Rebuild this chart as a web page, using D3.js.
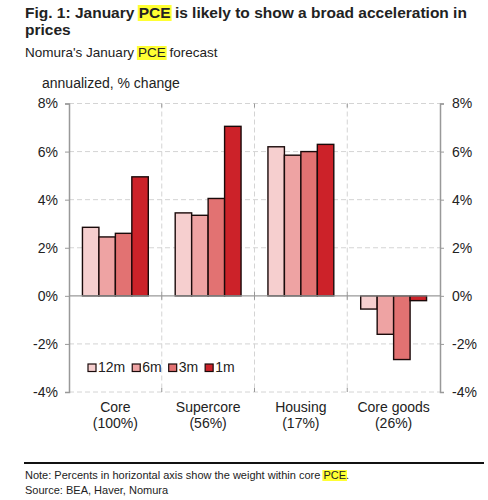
<!DOCTYPE html>
<html>
<head>
<meta charset="utf-8">
<script src="https://cdn.jsdelivr.net/npm/d3@7"></script>
<style>
  body { margin: 0; background: #fff; }
  svg { font-family: "Liberation Sans", Arial, sans-serif; }
</style>
</head>
<body>
<div id="chart"></div>
<script>
var categories = ["Core", "Supercore", "Housing", "Core goods"];
var weights = ["(100%)", "(56%)", "(17%)", "(26%)"];
var series = ["12m", "6m", "3m", "1m"];
var values12m = [2.85, 3.45, 6.2, -0.55];
var values6m = [2.45, 3.35, 5.85, -1.6];
var values3m = [2.6, 4.05, 6.0, -2.65];
var values1m = [4.95, 7.05, 6.3, -0.2];
var yTicks = [-4, -2, 0, 2, 4, 6, 8];

var seriesValues = [values12m, values6m, values3m, values1m];
var colors = ["#f6cfcf", "#eea3a3", "#e27272", "#cc2229"];

var width = 488, height = 500;
var plotLeft = 69, plotRight = 440, plotTop = 103.5, plotBottom = 392;

var svg = d3.select('#chart').append('svg')
	.attr('width', width)
	.attr('height', height);

// text line with yellow highlighted words
function highlightedLine(x, y, parts, size, weight) {
	var t = svg.append('text')
		.attr('x', x).attr('y', y)
		.attr('font-size', size)
		.attr('font-weight', weight)
		.attr('fill', '#222');
	parts.forEach(function (p) {
		t.append('tspan').attr('class', p.hl ? 'hl' : null).text(p.text);
	});
	t.selectAll('tspan.hl').each(function () {
		var b = this.getBBox();
		svg.insert('rect', 'text')
			.attr('x', b.x - 1).attr('y', b.y + 1)
			.attr('width', b.width + 2).attr('height', b.height - 1)
			.attr('fill', '#ffff33');
	});
	return t;
}

highlightedLine(25, 18, [{text: 'Fig. 1: January '}, {text: 'PCE', hl: true}, {text: ' is likely to show a broad acceleration in'}], 15.5, 'bold');
svg.append('text').attr('x', 25).attr('y', 35).attr('font-size', 15.5).attr('font-weight', 'bold').attr('fill', '#222').text('prices');
highlightedLine(25, 57, [{text: "Nomura's January "}, {text: 'PCE', hl: true}, {text: ' forecast'}], 13.5, 'normal');

svg.append('text').attr('x', 42).attr('y', 88).attr('font-size', 14).attr('fill', '#222').text('annualized, % change');

var x = d3.scaleBand().domain(categories).range([plotLeft, plotRight]);
var bw = x.bandwidth();
var groupPad = bw * 0.145;
var x1 = d3.scaleBand().domain(series).range([groupPad, bw - groupPad]);
var y = d3.scaleLinear().domain([-4, 8]).range([plotBottom, plotTop]);

// horizontal dashed grid
svg.append('g').selectAll('line').data(yTicks.filter(function (d) { return d !== 0; }))
	.enter().append('line')
	.attr('x1', plotLeft).attr('x2', plotRight)
	.attr('y1', function (d) { return y(d); }).attr('y2', function (d) { return y(d); })
	.attr('stroke', '#d4d4d4').attr('stroke-dasharray', '5,3');

// vertical dashed dividers
svg.append('g').selectAll('line').data(categories.slice(1))
	.enter().append('line')
	.attr('x1', function (d) { return x(d); }).attr('x2', function (d) { return x(d); })
	.attr('y1', plotTop).attr('y2', plotBottom)
	.attr('stroke', '#d4d4d4').attr('stroke-dasharray', '5,3');

// small ticks at the divider positions
categories.slice(1).forEach(function (c) {
	svg.append('line').attr('x1', x(c)).attr('x2', x(c)).attr('y1', plotTop).attr('y2', plotTop + 4).attr('stroke', '#999');
	svg.append('line').attr('x1', x(c)).attr('x2', x(c)).attr('y1', plotBottom - 4).attr('y2', plotBottom).attr('stroke', '#999');
	svg.append('line').attr('x1', x(c)).attr('x2', x(c)).attr('y1', y(0) - 4).attr('y2', y(0) + 4).attr('stroke', '#999');
});

// bars
var groups = svg.append('g').selectAll('g').data(categories)
	.enter().append('g')
	.attr('transform', function (d) { return 'translate(' + x(d) + ',0)'; });

groups.selectAll('rect').data(function (d, i) {
		return series.map(function (s, j) { return {s: s, v: seriesValues[j][i], j: j}; });
	})
	.enter().append('rect')
	.attr('x', function (d) { return x1(d.s); })
	.attr('width', x1.bandwidth())
	.attr('y', function (d) { return y(Math.max(0, d.v)); })
	.attr('height', function (d) { return Math.abs(y(d.v) - y(0)); })
	.attr('fill', function (d) { return colors[d.j]; })
	.attr('stroke', '#1a0a0a').attr('stroke-width', 1.4);

// zero line
svg.append('line').attr('x1', plotLeft).attr('x2', plotRight).attr('y1', y(0)).attr('y2', y(0))
	.attr('stroke', '#999').attr('stroke-width', 1.2);

// left/right axes
var yLeft = d3.axisLeft(y).tickValues(yTicks).tickSize(4).tickFormat(function (d) { return d + '%'; });
var yRight = d3.axisRight(y).tickValues(yTicks).tickSize(4).tickFormat(function (d) { return d + '%'; });

function styleAxis(g, anchor, dx) {
	g.select('.domain').attr('stroke', '#999').attr('stroke-width', 1.5);
	g.selectAll('.tick line').attr('stroke', '#999');
	g.selectAll('.tick text').attr('font-size', 14).attr('fill', '#222')
		.attr('font-family', '"Liberation Sans", Arial, sans-serif')
		.attr('text-anchor', anchor).attr('x', dx);
}

svg.append('g').attr('transform', 'translate(' + plotLeft + ',0)').call(yLeft)
	.call(function (g) { styleAxis(g, 'end', -11); });
svg.append('g').attr('transform', 'translate(' + plotRight + ',0)').call(yRight)
	.call(function (g) { styleAxis(g, 'start', 12); });

// category labels
var labels = svg.append('g').selectAll('g').data(categories)
	.enter().append('g');
labels.append('text')
	.attr('x', function (d) { return x(d) + bw / 2; }).attr('y', 412)
	.attr('text-anchor', 'middle').attr('font-size', 14).attr('fill', '#222')
	.text(function (d) { return d; });
labels.append('text')
	.attr('x', function (d) { return x(d) + bw / 2; }).attr('y', 428)
	.attr('text-anchor', 'middle').attr('font-size', 14).attr('fill', '#222')
	.text(function (d, i) { return weights[i]; });

// legend
var legend = svg.append('g').attr('transform', 'translate(88,372)');
var lx = 0;
series.forEach(function (s, j) {
	legend.append('rect').attr('x', lx).attr('y', -8).attr('width', 8).attr('height', 7.5)
		.attr('fill', colors[j]).attr('stroke', '#1a0a0a').attr('stroke-width', 1.2);
	var t = legend.append('text').attr('x', lx + 10).attr('y', 0).attr('font-size', 14).attr('fill', '#222').text(s);
	lx += 10 + t.node().getComputedTextLength() + 7;
});

// footer
svg.append('line').attr('x1', 24).attr('x2', 484).attr('y1', 463).attr('y2', 463)
	.attr('stroke', '#111').attr('stroke-width', 2);
highlightedLine(25, 479, [{text: 'Note: Percents in horizontal axis show the weight within core '}, {text: 'PCE', hl: true}, {text: '.'}], 11, 'normal');
svg.append('text').attr('x', 25).attr('y', 494).attr('font-size', 11).attr('fill', '#222').text('Source: BEA, Haver, Nomura');
</script>
</body>
</html>
